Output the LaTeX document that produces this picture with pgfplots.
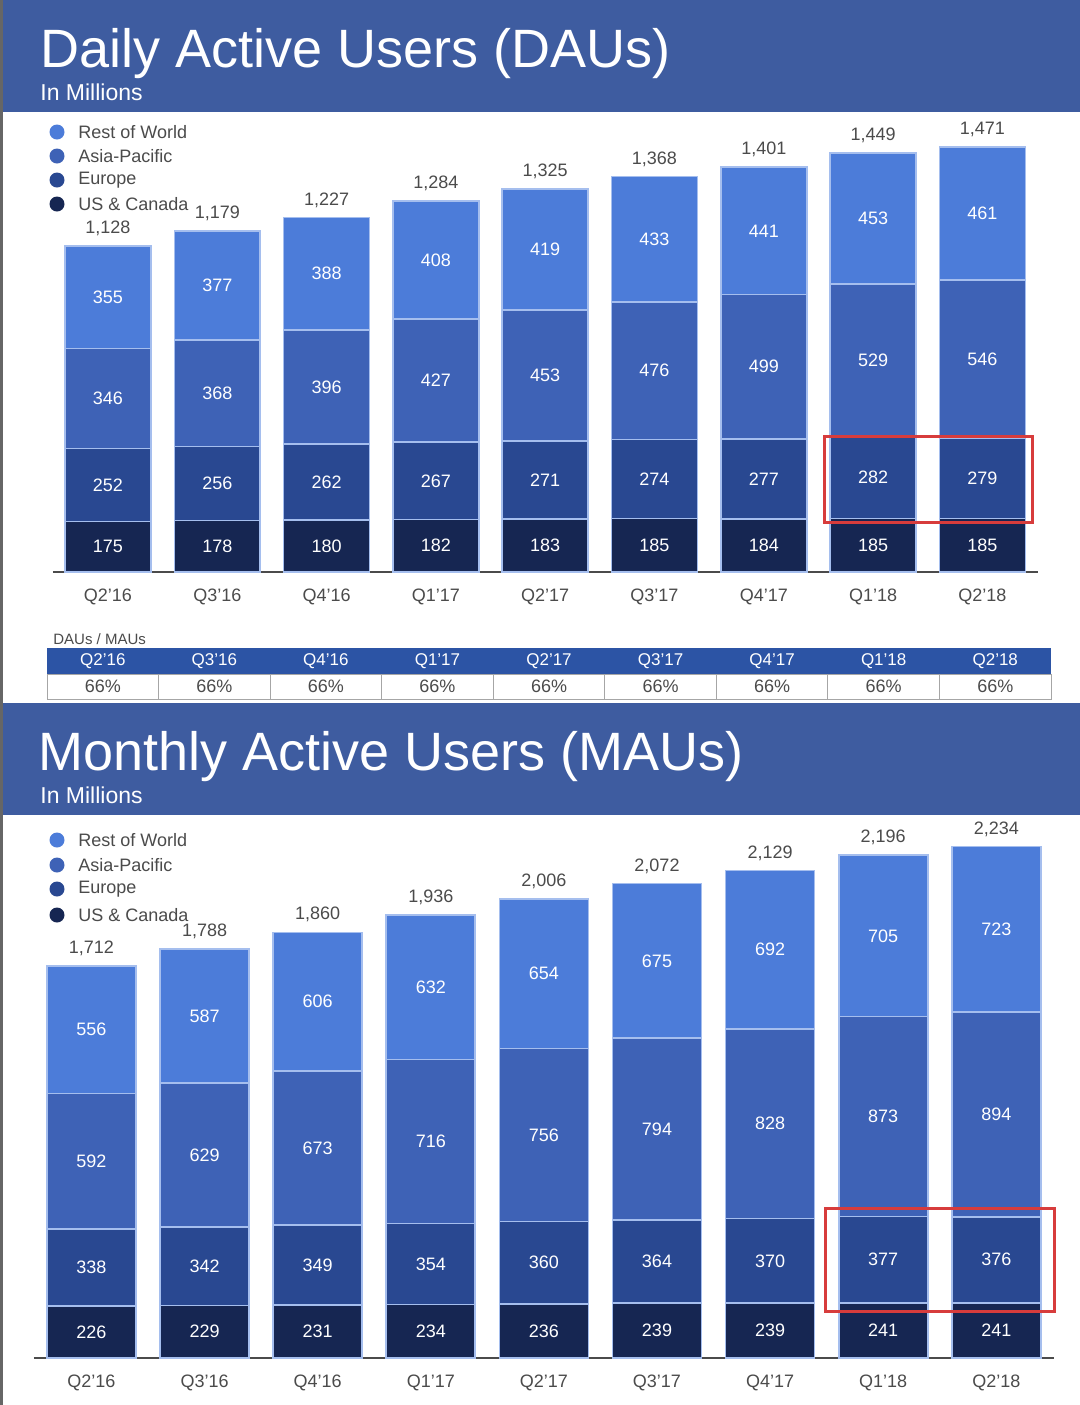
\documentclass[border=0pt]{standalone}
\usepackage{pgfplots}
\pgfplotsset{compat=1.18}
\usepackage{pgfplotstable}
\usepackage{fontspec}
\setmainfont{Liberation Sans}
\definecolor{hdr}{RGB}{62,92,160}
\definecolor{cRow}{RGB}{76,124,217}
\definecolor{cAP}{RGB}{62,98,182}
\definecolor{cEU}{RGB}{41,72,145}
\definecolor{cUS}{RGB}{22,38,82}
\definecolor{sep}{RGB}{165,190,238}
\definecolor{txt}{RGB}{75,75,75}
\definecolor{tblhdr}{RGB}{44,84,165}
\definecolor{redbox}{RGB}{215,60,60}

\pgfplotstableread{
x us eu ap row tot
0 175 252 346 355 1,128
1 178 256 368 377 1,179
2 180 262 396 388 1,227
3 182 267 427 408 1,284
4 183 271 453 419 1,325
5 185 274 476 433 1,368
6 184 277 499 441 1,401
7 185 282 529 453 1,449
8 185 279 546 461 1,471
}\dau

\pgfplotstableread{
x us eu ap row tot
0 226 338 592 556 1,712
1 229 342 629 587 1,788
2 231 349 673 606 1,860
3 234 354 716 632 1,936
4 236 360 756 654 2,006
5 239 364 794 675 2,072
6 239 370 828 692 2,129
7 241 377 873 705 2,196
8 241 376 894 723 2,234
}\mau

\newcommand{\fs}[1]{\fontsize{#1}{#1}\selectfont}

\pgfplotsset{
  barax/.style={scale only axis, anchor=south west, ymin=0,
    axis x line=bottom, axis y line=none,
    x axis line style={-, draw=txt, line width=0.8pt},
    xtick={0,...,8},
    xticklabels={Q2'16,Q3'16,Q4'16,Q1'17,Q2'17,Q3'17,Q4'17,Q1'18,Q2'18},
    major tick length=0pt, ytick=\empty,
    xticklabel style={font=\fs{9}, text=txt, yshift=-5pt},
    ybar stacked, enlargelimits=false},
  labax/.style={scale only axis, anchor=south west, ymin=0, hide axis, clip=false, enlargelimits=false},
  seglab/.style={draw=none, mark=none, nodes near coords, point meta=explicit symbolic,
    every node near coord/.append style={anchor=center, text=white, font=\fs{9}}},
  totlab/.style={draw=none, mark=none, nodes near coords, point meta=explicit symbolic,
    every node near coord/.append style={anchor=south, text=txt, font=\fs{9}, yshift=1.5pt}},
}

\begin{document}
\begin{tikzpicture}
% background
\fill[white] (0,0) rectangle (540pt,-702.5pt);
\fill[hdr] (0,0) rectangle (540pt,-56pt);
\fill[hdr] (0,-351.5pt) rectangle (540pt,-407.5pt);
\fill[black!60] (0,0) rectangle (1.5pt,-702.5pt);

% titles
\node[anchor=base west, text=white, font=\fs{27}, inner sep=0] at (20pt,-33.5pt) {Daily Active Users (DAUs)};
\node[anchor=base west, text=white, font=\fs{11.5}, inner sep=0] at (20pt,-50pt) {In Millions};
\node[anchor=base west, text=white, font=\fs{27}, inner sep=0] at (19pt,-385pt) {Monthly Active Users (MAUs)};
\node[anchor=base west, text=white, font=\fs{11.5}, inner sep=0] at (20pt,-401.5pt) {In Millions};

% DAU chart
\begin{axis}[barax, at={(26.5pt,-286pt)}, width=492.5pt, height=226pt,
  xmin=-0.503, xmax=8.509, ymax=1564, bar width=0.786]
\addplot[fill=cUS, draw=sep, line width=0.8pt] table[x=x,y=us]{\dau};
\addplot[fill=cEU, draw=sep, line width=0.8pt] table[x=x,y=eu]{\dau};
\addplot[fill=cAP, draw=sep, line width=0.8pt] table[x=x,y=ap]{\dau};
\addplot[fill=cRow, draw=sep, line width=0.8pt] table[x=x,y=row]{\dau};
\end{axis}
\begin{axis}[labax, at={(26.5pt,-286pt)}, width=492.5pt, height=226pt,
  xmin=-0.503, xmax=8.509, ymax=1564]
\addplot[seglab] table[x=x, y expr=\thisrow{us}/2, meta=us]{\dau};
\addplot[seglab] table[x=x, y expr=\thisrow{us}+\thisrow{eu}/2, meta=eu]{\dau};
\addplot[seglab] table[x=x, y expr=\thisrow{us}+\thisrow{eu}+\thisrow{ap}/2, meta=ap]{\dau};
\addplot[seglab] table[x=x, y expr=\thisrow{us}+\thisrow{eu}+\thisrow{ap}+\thisrow{row}/2, meta=row]{\dau};
\addplot[totlab] table[x=x, y expr=\thisrow{us}+\thisrow{eu}+\thisrow{ap}+\thisrow{row}, meta=tot]{\dau};
\draw[redbox, line width=1.5pt] (axis cs:6.56,170) rectangle (axis cs:8.46,470);
\end{axis}

% DAU legend
\foreach \c/\t [count=\i from 0] in {cRow/Rest of World, cAP/Asia-Pacific, cEU/Europe, cUS/US \& Canada}{
  \fill[\c] (28.5pt,{-66pt-12*\i pt}) circle (3.75pt);
  \node[anchor=west, text=txt, font=\fs{9}, inner sep=0] at (39pt,{-66pt-12*\i pt}) {\t};
}

% DAU/MAU table
\node[anchor=west, text=txt, font=\fs{7.5}, inner sep=0] at (26.5pt,-319.5pt) {DAUs / MAUs};
\fill[tblhdr] (23.5pt,-324pt) rectangle (525.5pt,-337pt);
\draw[black!35, line width=0.5pt] (23.5pt,-337pt) rectangle (525.5pt,-349.5pt);
\foreach \q [count=\i from 0] in {Q2'16,Q3'16,Q4'16,Q1'17,Q2'17,Q3'17,Q4'17,Q1'18,Q2'18}{
  \node[text=white, font=\fs{8.5}, inner sep=0] at ({23.5pt+55.78*(\i+0.5)*1pt},-330.5pt) {\q};
  \node[text=txt, font=\fs{9}, inner sep=0] at ({23.5pt+55.78*(\i+0.5)*1pt},-343.25pt) {66\%};
}
\foreach \i in {1,...,8}{
  \draw[black!35, line width=0.5pt] ({23.5pt+55.78*\i*1pt},-337pt) -- ({23.5pt+55.78*\i*1pt},-349.5pt);
}

% MAU chart
\begin{axis}[barax, at={(17pt,-679pt)}, width=510pt, height=264pt,
  xmin=-0.508, xmax=8.51, ymax=2306, bar width=0.787]
\addplot[fill=cUS, draw=sep, line width=0.8pt] table[x=x,y=us]{\mau};
\addplot[fill=cEU, draw=sep, line width=0.8pt] table[x=x,y=eu]{\mau};
\addplot[fill=cAP, draw=sep, line width=0.8pt] table[x=x,y=ap]{\mau};
\addplot[fill=cRow, draw=sep, line width=0.8pt] table[x=x,y=row]{\mau};
\end{axis}
\begin{axis}[labax, at={(17pt,-679pt)}, width=510pt, height=264pt,
  xmin=-0.508, xmax=8.51, ymax=2306]
\addplot[seglab] table[x=x, y expr=\thisrow{us}/2, meta=us]{\mau};
\addplot[seglab] table[x=x, y expr=\thisrow{us}+\thisrow{eu}/2, meta=eu]{\mau};
\addplot[seglab] table[x=x, y expr=\thisrow{us}+\thisrow{eu}+\thisrow{ap}/2, meta=ap]{\mau};
\addplot[seglab] table[x=x, y expr=\thisrow{us}+\thisrow{eu}+\thisrow{ap}+\thisrow{row}/2, meta=row]{\mau};
\addplot[totlab] table[x=x, y expr=\thisrow{us}+\thisrow{eu}+\thisrow{ap}+\thisrow{row}, meta=tot]{\mau};
\draw[redbox, line width=1.5pt] (axis cs:6.49,201) rectangle (axis cs:8.51,655);
\end{axis}

% MAU legend
\foreach \c/\t/\y in {cRow/Rest of World/420, cAP/Asia-Pacific/432.5, cEU/Europe/444.5, cUS/US \& Canada/457.5}{
  \fill[\c] (28.5pt,-\y pt) circle (3.75pt);
  \node[anchor=west, text=txt, font=\fs{9}, inner sep=0] at (39pt,-\y pt) {\t};
}
\end{tikzpicture}
\end{document}
